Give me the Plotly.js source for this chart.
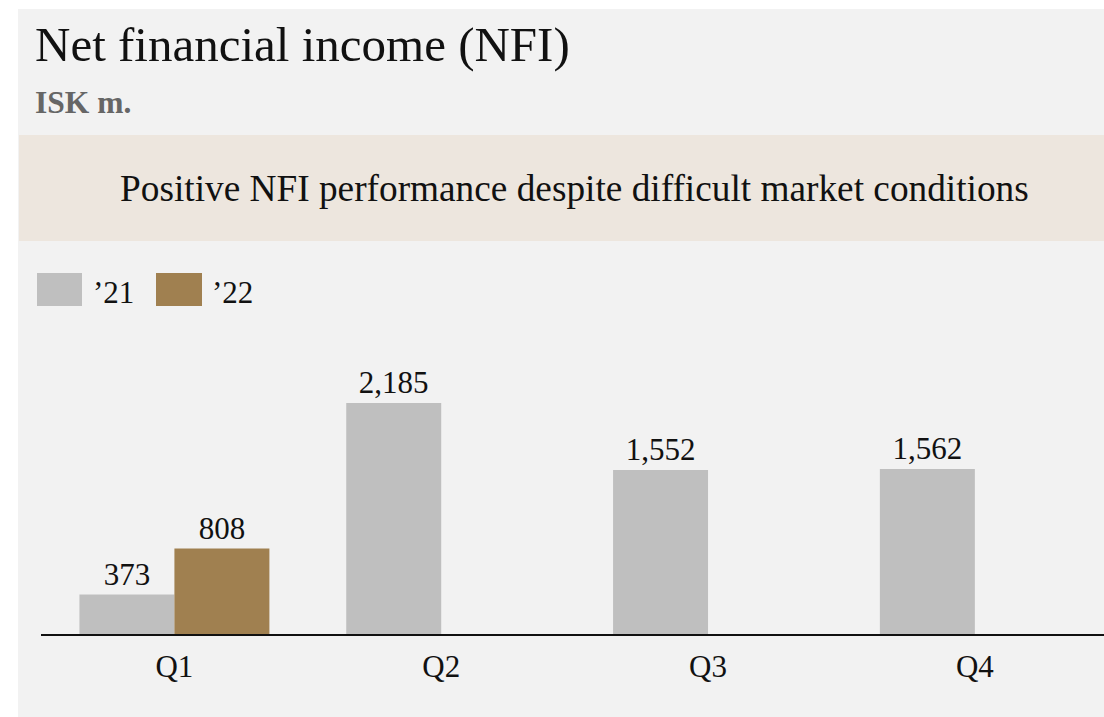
<!DOCTYPE html>
<html>
<head>
<meta charset="utf-8">
<script src="https://cdn.plot.ly/plotly-3.0.1.min.js"></script>
<style>
html,body{margin:0;padding:0;background:#ffffff;overflow:hidden;}
#chart{width:1104px;height:717px;}
</style>
</head>
<body>
<div id="chart"></div>
<script>
const quarters = ['Q1', 'Q2', 'Q3', 'Q4'];
const values21 = [373, 2185, 1552, 1562];
const quarters22 = ['Q1'];
const values22 = [808];
const seriesNames = ['’21', '’22'];
const seriesColors = ['#bfbfbf', '#a08050'];
const titleText = 'Net financial income (NFI)';
const subtitleText = 'ISK m.';
const bannerText = 'Positive NFI performance despite difficult market conditions';

const W = 1104, H = 717;
const L = 41, R = 1104, T = 330, B = 634;
function px(x) { return (x - L) / (R - L); }
function py(y) { return (B - y) / (B - T); }
const FONT = '"Liberation Serif", "Times New Roman", serif';

const traces = [
  {
    type: 'bar', name: seriesNames[0], x: quarters, y: values21,
    marker: {color: seriesColors[0], line: {width: 0}},
    texttemplate: '%{y:,}', textposition: 'outside', cliponaxis: false,
    textfont: {family: FONT, size: 31, color: '#111111'},
    hoverinfo: 'skip'
  },
  {
    type: 'bar', name: seriesNames[1], x: quarters22, y: values22,
    marker: {color: seriesColors[1], line: {width: 0}},
    texttemplate: '%{y:,}', textposition: 'outside', cliponaxis: false,
    textfont: {family: FONT, size: 31, color: '#111111'},
    hoverinfo: 'skip'
  }
];

const ppu = 0.1057; // px per unit
const yMax = (B - T) / ppu;

const layout = {
  width: W, height: H,
  margin: {l: L, r: W - R, t: T, b: H - B, pad: 0},
  paper_bgcolor: '#ffffff',
  plot_bgcolor: 'rgba(0,0,0,0)',
  showlegend: false,
  barmode: 'group',
  bargap: 0.288,
  bargroupgap: 0,
  font: {family: FONT, color: '#111111'},
  xaxis: {
    type: 'category', categoryorder: 'array', categoryarray: quarters,
    range: [-0.5, 3.484],
    showline: true, linecolor: '#111111', linewidth: 2,
    ticks: '', showgrid: false, zeroline: false,
    tickfont: {family: FONT, size: 31, color: '#111111'},
    ticklabelstandoff: 4,
    fixedrange: true
  },
  yaxis: {
    range: [0, yMax], visible: false, showgrid: false, zeroline: false, fixedrange: true
  },
  shapes: [
    {type: 'rect', xref: 'paper', yref: 'paper', layer: 'below',
     x0: px(18), x1: px(1104), y0: py(717), y1: py(9),
     fillcolor: '#f2f2f2', line: {width: 0}},
    {type: 'rect', xref: 'paper', yref: 'paper', layer: 'below',
     x0: px(19), x1: px(1104), y0: py(241), y1: py(135),
     fillcolor: '#ede6de', line: {width: 0}},
    {type: 'rect', xref: 'paper', yref: 'paper', layer: 'above',
     x0: px(37), x1: px(82), y0: py(306), y1: py(273),
     fillcolor: seriesColors[0], line: {width: 0}},
    {type: 'rect', xref: 'paper', yref: 'paper', layer: 'above',
     x0: px(156), x1: px(202), y0: py(306), y1: py(273),
     fillcolor: seriesColors[1], line: {width: 0}}
  ],
  annotations: [
    {xref: 'paper', yref: 'paper', x: px(33), y: py(44), xanchor: 'left', yanchor: 'middle',
     text: titleText, showarrow: false, font: {family: FONT, size: 49, color: '#111111'}},
    {xref: 'paper', yref: 'paper', x: px(33), y: py(102), xanchor: 'left', yanchor: 'middle',
     text: '<b>' + subtitleText + '</b>', showarrow: false, font: {family: FONT, size: 31.5, color: '#666666'}},
    {xref: 'paper', yref: 'paper', x: px(574.5), y: py(189), xanchor: 'center', yanchor: 'middle',
     text: bannerText, showarrow: false, font: {family: FONT, size: 37.3, color: '#111111'}},
    {xref: 'paper', yref: 'paper', x: px(91), y: py(292), xanchor: 'left', yanchor: 'middle',
     text: seriesNames[0], showarrow: false, font: {family: FONT, size: 31, color: '#111111'}},
    {xref: 'paper', yref: 'paper', x: px(210), y: py(292), xanchor: 'left', yanchor: 'middle',
     text: seriesNames[1], showarrow: false, font: {family: FONT, size: 31, color: '#111111'}}
  ]
};

Plotly.newPlot('chart', traces, layout, {displayModeBar: false, staticPlot: true});
</script>
</body>
</html>
